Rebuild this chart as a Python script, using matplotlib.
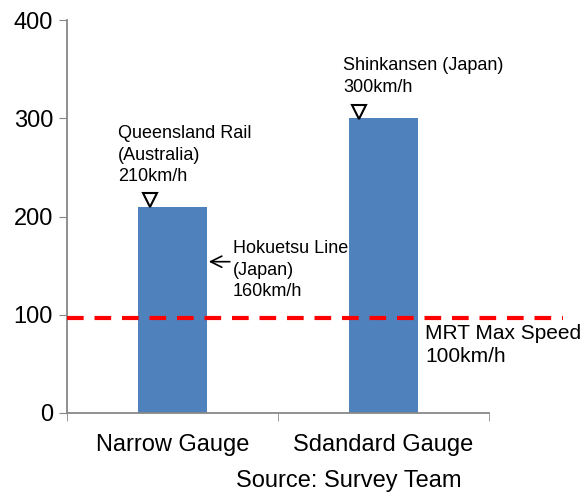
import numpy as np
import matplotlib
matplotlib.use("Agg")
import matplotlib.pyplot as plt

plt.rcParams['font.family'] = ['Liberation Sans', 'DejaVu Sans']

categories = ['Narrow Gauge', 'Sdandard Gauge']
speeds = [210, 300]
mrt_speed = 97
yticks = [0, 100, 200, 300, 400]

fig = plt.figure(figsize=(5.85, 4.93), dpi=100)
ax = fig.add_axes([0.1145, 0.1623, 0.7214, 0.7971])

x = np.arange(len(categories))
ax.bar(x, speeds, width=0.33, color='#4F81BD', zorder=2)

# red dashed MRT line, runs past the plot area on the right
ax.plot([-0.5, 1.85], [mrt_speed, mrt_speed], color='#FF0000', lw=3,
        dashes=(4, 2.6), clip_on=False, zorder=3)

ax.set_xlim(-0.5, 1.5)
ax.set_ylim(0, 400)
ax.set_yticks(yticks)
ax.set_xticks(x)
ax.set_xticklabels(categories, fontsize=17)
ax.set_xticks([-0.5, 0.5, 1.5], minor=True)
ax.tick_params(axis='x', which='major', length=0, pad=15)
ax.tick_params(axis='x', which='minor', length=6, color='#888888')
ax.tick_params(axis='y', length=6, color='#888888', labelsize=17, pad=4)

for s in ['top', 'right']:
    ax.spines[s].set_visible(False)
for s in ['left', 'bottom']:
    ax.spines[s].set_color('#888888')
    ax.spines[s].set_linewidth(1.3)

# markers above bars
ax.plot([x[0] - 0.107, x[1] - 0.116], [speeds[0] + 7, speeds[1] + 6], 'v',
        ms=10, mfc='white', mec='black', mew=1.5, clip_on=False, zorder=4)

ax.text(-0.258, 293, 'Queensland Rail\n(Australia)\n210km/h',
        fontsize=13, va='top', ha='left', linespacing=1.35)
ax.text(0.808, 362, 'Shinkansen (Japan)\n300km/h',
        fontsize=13, va='top', ha='left', linespacing=1.35)
ax.text(0.287, 176, 'Hokuetsu Line\n(Japan)\n160km/h',
        fontsize=13, va='top', ha='left', linespacing=1.35)
ax.annotate('', xy=(0.159, 154), xytext=(0.285, 154),
            arrowprops=dict(arrowstyle='->', color='black', lw=1.2,
                            mutation_scale=20))
ax.text(1.197, 90.5, 'MRT Max Speed\n100km/h', fontsize=15, va='top',
        ha='left', linespacing=1.25)

fig.text(0.597, 0.002, 'Source: Survey Team', fontsize=17, ha='center',
         va='bottom')

fig.savefig('out.png', dpi=100)
